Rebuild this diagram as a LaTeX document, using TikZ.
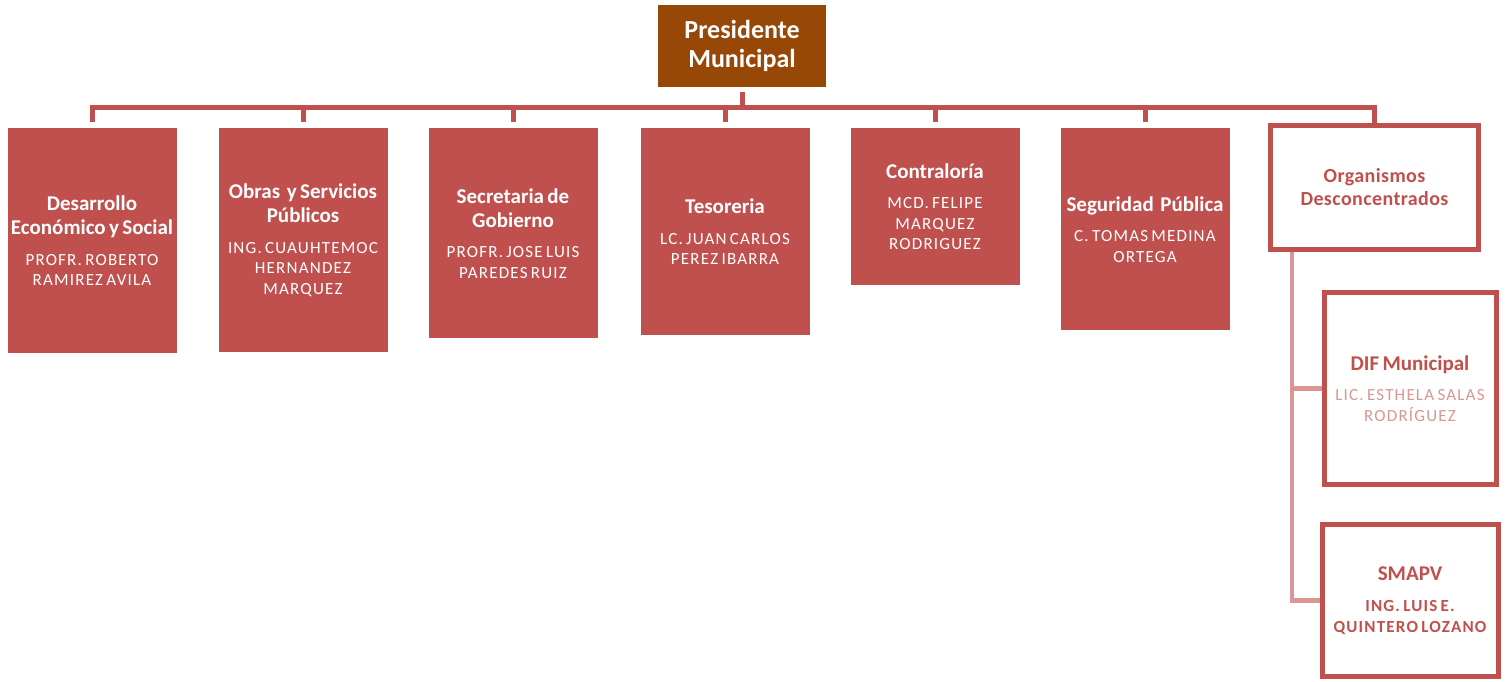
\documentclass[tikz,border=0pt]{standalone}
\usepackage{fontspec}
\setmainfont{Carlito}
\usepackage{xcolor}
\usepackage{tikz}
\usetikzlibrary{calc}
\definecolor{BoxRed}{HTML}{C0504D}
\definecolor{Brown}{HTML}{974706}
\definecolor{PaleRed}{HTML}{D99694}
\newcommand{\headfont}{\fontsize{21}{24}\selectfont\bfseries}
\newcommand{\namefont}{\fontsize{17}{20.5}\selectfont\mdseries\addfontfeatures{LetterSpace=7}}
\tikzset{
  head/.style={fill=Brown, text=white, inner sep=0pt, align=center,
    minimum width=168pt, minimum height=82pt, font=\fontsize{26}{29}\selectfont\bfseries},
  unit/.style={fill=BoxRed, text=white, anchor=north, inner sep=0pt,
    minimum width=169pt, text width=169pt, align=center},
  outline/.style={draw=BoxRed, line width=5pt, fill=white, text=BoxRed,
    inner sep=0pt, align=center},
  link/.style={draw=BoxRed, line width=5pt},
  sublink/.style={draw=PaleRed, line width=4.5pt},
}

\begin{document}
\begin{tikzpicture}[x=1pt, y=-1pt]
  \useasboundingbox (0,0) rectangle (1510,681);

  % President
  \node[head] (pres) at (742,46) {Presidente\\Municipal};

  % Departments
  \node[unit, minimum height=225pt] (des) at (92,128)
    {\headfont Desarrollo\\Económico y Social\par\vspace{10pt}\namefont PROFR. ROBERTO\\RAMIREZ AVILA\par};
  \node[unit, minimum height=224pt] (obr) at (303,128)
    {\headfont Obras~ y Servicios\\Públicos\par\vspace{10pt}\namefont ING. CUAUHTEMOC\\HERNANDEZ\\MARQUEZ\par};
  \node[unit, minimum height=210pt] (sec) at (513,128)
    {\headfont Secretaria de\\Gobierno\par\vspace{10pt}\namefont PROFR. JOSE LUIS\\PAREDES RUIZ\par};
  \node[unit, minimum height=207pt] (tes) at (725,128)
    {\headfont Tesoreria\par\vspace{10pt}\namefont LC. JUAN CARLOS\\PEREZ IBARRA\par};
  \node[unit, minimum height=157pt] (con) at (935,128)
    {\headfont Contraloría\par\vspace{10pt}\namefont MCD. FELIPE\\MARQUEZ\\RODRIGUEZ\par};
  \node[unit, minimum height=202pt] (seg) at (1145,128)
    {\headfont Seguridad~ Pública\par\vspace{10pt}\namefont C. TOMAS MEDINA\\ORTEGA\par};

  % Decentralised bodies
  \node[outline, minimum width=208pt, minimum height=124pt,
    font=\fontsize{20}{23}\selectfont\bfseries\addfontfeatures{LetterSpace=2}] (org) at (1374.5,187.5)
    {Organismos\\Desconcentrados};
  \node[outline, minimum width=169pt, minimum height=192pt, text width=172pt] (dif) at (1410,388.5)
    {\headfont DIF Municipal\par\vspace{10pt}\namefont\color{PaleRed} LIC. ESTHELA SALAS\\RODRÍGUEZ\par};
  \node[outline, minimum width=169pt, minimum height=152pt, text width=176pt] (smapv) at (1410,600.5)
    {\headfont SMAPV\par\vspace{10pt}\namefont\fontsize{17}{21}\selectfont\bfseries ING. LUIS E.\\QUINTERO LOZANO\par};

  % Bus
  \coordinate (bus) at (742,107);
  \draw[link, shorten <=5pt] (pres.south) -- (pres.south |- bus);
  \draw[link, shorten <=6pt] (des.north) |- (bus) -| (org.north);
  \foreach \n in {obr,sec,tes,con,seg}
    \draw[link, shorten >=6pt] (bus -| \n.north) -- (\n.north);

  % Sub links
  \coordinate (trunk) at (1292,252);
  \draw[sublink] (trunk) |- (dif.west);
  \draw[sublink] (trunk) |- (smapv.west);
\end{tikzpicture}
\end{document}
